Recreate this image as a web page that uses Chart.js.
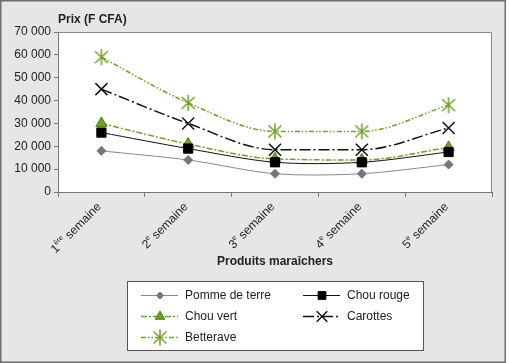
<!DOCTYPE html>
<html>
<head>
<meta charset="utf-8">
<script src="https://cdn.jsdelivr.net/npm/chart.js@4.4.1/dist/chart.umd.min.js"></script>
<style>
  html, body { margin: 0; padding: 0; background: #fff; }
  #wrap { width: 509px; height: 363px; }
</style>
</head>
<body>
<div id="wrap"><canvas id="linechart" width="509" height="363"></canvas></div>
<script>
// data
const weeks = ["1", "2", "3", "4", "5"];
const weekSup = ["ère", "e", "e", "e", "e"];
const pommeDeTerre = [18000, 14000, 8000, 8000, 12000];
const chouRouge = [26000, 19000, 13000, 13000, 17500];
const chouVert = [30000, 21000, 14500, 14000, 19500];
const carottes = [45000, 30000, 18500, 18500, 28000];
const betterave = [59000, 39000, 26500, 26500, 38000];
const yTicks = [0, 10000, 20000, 30000, 40000, 50000, 60000, 70000];

const GREEN = "#6f9e2a";
const FONT = "'Liberation Sans', Arial, sans-serif";

// asterisk marker (vertical bar + X), like the spreadsheet star
function makeStar(color) {
  const c = document.createElement("canvas");
  c.width = 18;
  c.height = 18;
  const g = c.getContext("2d");
  g.strokeStyle = color;
  g.lineWidth = 1.5;
  g.beginPath();
  g.moveTo(9, 1);
  g.lineTo(9, 17);
  g.moveTo(2.5, 3);
  g.lineTo(15.5, 15);
  g.moveTo(15.5, 3);
  g.lineTo(2.5, 15);
  g.stroke();
  return c;
}
const starImg = makeStar(GREEN);

const datasets = [
  {
    label: "Pomme de terre",
    data: pommeDeTerre,
    borderColor: "#8a8a8a",
    borderWidth: 1,
    pointStyle: "rectRot",
    pointRadius: 4.5,
    pointBackgroundColor: "#777",
    pointBorderColor: "#777",
    tension: 0.3,
  },
  {
    label: "Chou rouge",
    data: chouRouge,
    borderColor: "#111",
    borderWidth: 1,
    pointStyle: "rect",
    pointRadius: 6.5,
    pointBackgroundColor: "#000",
    pointBorderColor: "#000",
    tension: 0.3,
  },
  {
    label: "Chou vert",
    data: chouVert,
    borderColor: GREEN,
    borderWidth: 1.5,
    borderDash: [6, 2, 2, 2],
    pointStyle: "triangle",
    pointRadius: 6.5,
    pointBackgroundColor: GREEN,
    pointBorderColor: "#4f7a1c",
    pointBorderWidth: 1,
    cubicInterpolationMode: "monotone",
  },
  {
    label: "Carottes",
    data: carottes,
    borderColor: "#111",
    borderWidth: 1.5,
    borderDash: [11, 3, 2, 3],
    pointStyle: "crossRot",
    pointRadius: 8.5,
    pointBorderColor: "#111",
    pointBorderWidth: 1.5,
    cubicInterpolationMode: "monotone",
  },
  {
    label: "Betterave",
    data: betterave,
    borderColor: GREEN,
    borderWidth: 1.5,
    borderDash: [5, 2, 1.5, 2, 1.5, 2],
    pointStyle: starImg,
    pointRadius: 9,
    cubicInterpolationMode: "monotone",
  },
];

// background, plot frame, titles, rotated week labels and the boxed legend
const decorPlugin = {
  id: "decor",
  beforeDraw(chart) {
    const { ctx, chartArea: a } = chart;
    ctx.save();
    ctx.fillStyle = "#fff";
    ctx.fillRect(0, 0, chart.width, chart.height);
    ctx.fillStyle = "#e6e6e6";
    ctx.fillRect(0.5, 0.5, 505, 362);
    ctx.strokeStyle = "#6e6e6e";
    ctx.lineWidth = 1.5;
    ctx.strokeRect(0.75, 0.75, 504.5, 361.5);
    ctx.fillStyle = "#fff";
    ctx.fillRect(a.left, a.top, a.right - a.left, a.bottom - a.top);
    ctx.restore();
  },
  afterDraw(chart) {
    const { ctx, chartArea: a } = chart;
    const x = chart.scales.x;
    ctx.save();
    ctx.strokeStyle = "#888";
    ctx.lineWidth = 1;
    ctx.beginPath();
    ctx.moveTo(a.left, a.top + 0.5);
    ctx.lineTo(a.right - 0.5, a.top + 0.5);
    ctx.lineTo(a.right - 0.5, a.bottom);
    ctx.stroke();

    ctx.fillStyle = "#222";
    ctx.font = "bold 12px " + FONT;
    ctx.textAlign = "left";
    ctx.textBaseline = "alphabetic";
    ctx.fillText("Prix (F CFA)", a.left, a.top - 9);
    ctx.textAlign = "center";
    ctx.textBaseline = "middle";
    ctx.fillText("Produits maraîchers", (a.left + a.right) / 2, 262);

    // week labels with superscript suffix
    weeks.forEach((w, i) => {
      const px = x.getPixelForValue(i);
      const big = "12px " + FONT;
      const small = "7px " + FONT;
      ctx.font = big;
      const w1 = ctx.measureText(w).width;
      const w3 = ctx.measureText(" semaine").width;
      ctx.font = small;
      const w2 = ctx.measureText(weekSup[i]).width;
      const total = w1 + w2 + w3;
      ctx.save();
      ctx.translate(px - 2, a.bottom + 13);
      ctx.rotate(-Math.PI / 4);
      ctx.textAlign = "left";
      ctx.textBaseline = "middle";
      ctx.fillStyle = "#222";
      let cx = -total;
      ctx.font = big;
      ctx.fillText(w, cx, 0);
      cx += w1;
      ctx.font = small;
      ctx.fillText(weekSup[i], cx, -4);
      cx += w2;
      ctx.font = big;
      ctx.fillText(" semaine", cx, 0);
      ctx.restore();
    });

    // legend box
    const bx = 127, by = 281, bw = 296, bh = 69;
    ctx.fillStyle = "#fff";
    ctx.fillRect(bx, by, bw, bh);
    ctx.strokeStyle = "#555";
    ctx.lineWidth = 1;
    ctx.strokeRect(bx + 0.5, by + 0.5, bw, bh);
    const slots = [
      [141, 295], [303, 295],
      [141, 316], [303, 316],
      [141, 337],
    ];
    chart.data.datasets.forEach((ds, i) => {
      const [lx, ly] = slots[i];
      ctx.save();
      ctx.strokeStyle = ds.borderColor;
      ctx.lineWidth = ds.borderWidth;
      ctx.setLineDash(ds.borderDash || []);
      ctx.beginPath();
      ctx.moveTo(lx, ly + 0.5);
      ctx.lineTo(lx + 37, ly + 0.5);
      ctx.stroke();
      ctx.setLineDash([]);
      ctx.fillStyle = ds.pointBackgroundColor || ds.borderColor;
      ctx.strokeStyle = ds.pointBorderColor || ds.borderColor;
      ctx.lineWidth = ds.pointBorderWidth || 1;
      Chart.helpers.drawPoint(ctx, {
        pointStyle: ds.pointStyle,
        radius: ds.pointRadius - 1,
        rotation: 0,
        borderWidth: ds.pointBorderWidth || 1,
      }, lx + 19, ly + 0.5);
      ctx.restore();
      ctx.fillStyle = "#222";
      ctx.font = "12px " + FONT;
      ctx.textAlign = "left";
      ctx.textBaseline = "middle";
      ctx.fillText(ds.label, lx + 44, ly + 1);
    });
    ctx.restore();
  },
};

const ctx = document.getElementById("linechart").getContext("2d");

let lineChart = new Chart(ctx, {
  type: "line",
  data: {
    labels: weeks.map((w, i) => w + weekSup[i] + " semaine"),
    datasets: datasets,
  },
  options: {
    responsive: false,
    animation: false,
    layout: { padding: { left: 0, top: 32, right: 17, bottom: 0 } },
    plugins: {
      legend: { display: false },
      tooltip: { enabled: false },
    },
    scales: {
      x: {
        offset: true,
        grid: {
          offset: true,
          drawOnChartArea: false,
          tickLength: 5,
          color: "#777",
        },
        border: { color: "#777" },
        ticks: { display: false },
        afterFit: (scale) => {
          scale.height = 171;
        },
      },
      y: {
        min: 0,
        max: 70000,
        afterBuildTicks: (scale) => {
          scale.ticks = yTicks.map((v) => ({ value: v }));
        },
        grid: {
          drawOnChartArea: false,
          tickLength: 4,
          color: "#777",
        },
        border: { color: "#777" },
        ticks: {
          color: "#222",
          padding: 3,
          font: { family: FONT, size: 12 },
          callback: (v) => String(v).replace(/\B(?=(\d{3})+(?!\d))/g, " "),
        },
        afterFit: (scale) => {
          scale.width = 58;
        },
      },
    },
  },
  plugins: [decorPlugin],
});
</script>
</body>
</html>
